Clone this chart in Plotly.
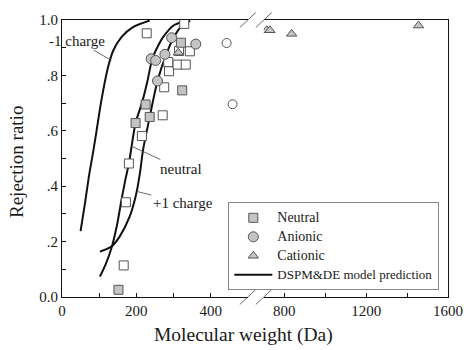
import plotly.graph_objects as go

# ---------------- data ----------------
neutral_mw = [152, 198, 225, 236, 320, 323.5]
neutral_rej = [0.026, 0.628, 0.695, 0.650, 0.918, 0.746]

neutral_open_mw = [166, 172, 180, 215, 228, 271, 275, 286, 288, 311, 315, 333, 344, 329]
neutral_open_rej = [0.114, 0.342, 0.482, 0.581, 0.952, 0.656, 0.757, 0.848, 0.815, 0.839, 0.888, 0.839, 0.887, 0.986]

anionic_mw = [240, 252, 257, 277, 295, 360]
anionic_rej = [0.860, 0.854, 0.780, 0.876, 0.936, 0.913]

anionic_open_mw = [443, 459]
anionic_open_rej = [0.917, 0.696]

cationic_mw = [313, 714, 730, 836, 1456]
cationic_rej = [0.882, 0.963, 0.963, 0.950, 0.980]

model_neg_mw = [50, 62, 73, 84, 93, 106, 124, 138, 160, 191, 236]
model_neg_rej = [0.238, 0.34, 0.44, 0.525, 0.60, 0.71, 0.83, 0.89, 0.938, 0.974, 0.998]

model_neu_mw = [102, 118, 133, 148, 160, 170, 180, 198, 215, 230, 243, 258, 272, 300, 335]
model_neu_rej = [0.074, 0.12, 0.176, 0.26, 0.35, 0.42, 0.482, 0.628, 0.70, 0.78, 0.86, 0.905, 0.938, 0.98, 0.998]

model_pos_mw = [102, 118, 133, 155, 182, 200, 210, 218, 236, 257, 281, 301, 319, 345]
model_pos_rej = [0.164, 0.172, 0.182, 0.218, 0.29, 0.374, 0.45, 0.53, 0.65, 0.78, 0.878, 0.938, 0.974, 0.998]

x_ticks1 = [0, 100, 200, 300, 400]
x_text1 = ["0", "", "200", "", "400"]
x_ticks2 = [800, 1000, 1200, 1400, 1600]
x_text2 = ["800", "", "1200", "", "1600"]
y_ticks = [0, 0.1, 0.2, 0.3, 0.4, 0.5, 0.6, 0.7, 0.8, 0.9, 1.0]
y_text = ["0.0", "", ".2", "", ".4", "", ".6", "", ".8", "", "1.0"]

BREAK_LO, BREAK_HI = 500, 700

# ---------------- styles ----------------
FONT = "Liberation Serif, Times New Roman, serif"
TXT = "#1a1a1a"
FILL = "#c4c4c4"
EDGE = "#555555"

W, H = 464, 350
ML, MR, MT, MB = 62, 16, 20, 53
PW = W - ML - MR
PH = H - MT - MB
D1 = (247.8 - ML) / PW
D2 = (263.8 - ML) / PW


def split(xs, ys):
    a = [(x, y) for x, y in zip(xs, ys) if x <= BREAK_LO]
    b = [(x, y) for x, y in zip(xs, ys) if x >= BREAK_HI]
    return ([p[0] for p in a], [p[1] for p in a]), ([p[0] for p in b], [p[1] for p in b])


def big(t, size=14):
    return f"<span style='font-size:{size}px'>{t}</span>"


fig = go.Figure()

line_style = dict(color="#111111", width=2, shape="spline", smoothing=0.8)
fig.add_trace(go.Scatter(x=model_neg_mw, y=model_neg_rej, mode="lines", line=line_style,
                         name=big("DSPM&DE model prediction", 13),
                         legendrank=4, showlegend=True, xaxis="x", yaxis="y"))
fig.add_trace(go.Scatter(x=model_neu_mw, y=model_neu_rej, mode="lines", line=line_style,
                         showlegend=False, xaxis="x", yaxis="y"))
fig.add_trace(go.Scatter(x=model_pos_mw, y=model_pos_rej, mode="lines", line=line_style,
                         showlegend=False, xaxis="x", yaxis="y"))

open_marker = dict(color="white", line=dict(color=EDGE, width=1))
fig.add_trace(go.Scatter(x=neutral_open_mw, y=neutral_open_rej, mode="markers",
                         marker=dict(symbol="square", size=9, **open_marker),
                         showlegend=False, xaxis="x", yaxis="y"))
fig.add_trace(go.Scatter(x=anionic_open_mw, y=anionic_open_rej, mode="markers",
                         marker=dict(symbol="circle", size=9, **open_marker),
                         showlegend=False, xaxis="x", yaxis="y"))

fill_marker = dict(color=FILL, line=dict(color=EDGE, width=1))
fig.add_trace(go.Scatter(x=neutral_mw, y=neutral_rej, mode="markers", name=big("Neutral"),
                         marker=dict(symbol="square", size=9, **fill_marker),
                         legendrank=1, xaxis="x", yaxis="y"))
fig.add_trace(go.Scatter(x=anionic_mw, y=anionic_rej, mode="markers", name=big("Anionic"),
                         marker=dict(symbol="circle", size=10, **fill_marker),
                         legendrank=2, xaxis="x", yaxis="y"))
(c1x, c1y), (c2x, c2y) = split(cationic_mw, cationic_rej)
fig.add_trace(go.Scatter(x=c1x, y=c1y, mode="markers", name=big("Cationic"),
                         marker=dict(symbol="triangle-up", size=9, **fill_marker),
                         legendrank=3, legendgroup="cat", xaxis="x", yaxis="y"))
fig.add_trace(go.Scatter(x=c2x, y=c2y, mode="markers", name="Cationic",
                         marker=dict(symbol="triangle-up", size=9, **fill_marker),
                         legendgroup="cat", showlegend=False, xaxis="x2", yaxis="y2"))

axis_common = dict(showline=True, linecolor="#111111", linewidth=1, ticks="inside",
                   ticklen=4, tickcolor="#111111", showgrid=False, zeroline=False,
                   automargin=False,
                   tickfont=dict(family=FONT, size=15, color=TXT))

fig.update_layout(
    width=W, height=H,
    margin=dict(l=ML, r=MR, t=MT, b=MB, pad=0, autoexpand=False),
    paper_bgcolor="white", plot_bgcolor="white",
    font=dict(family=FONT, color=TXT),
    hovermode=False,
    xaxis=dict(domain=[0, D1], range=[0, BREAK_LO], tickvals=x_ticks1, ticktext=x_text1,
               mirror=True, anchor="y", **axis_common),
    xaxis2=dict(domain=[D2, 1], range=[BREAK_HI, 1600], tickvals=x_ticks2, ticktext=x_text2,
                mirror=True, anchor="y2", **axis_common),
    yaxis=dict(domain=[0, 1], range=[0, 1.0], tickvals=y_ticks, ticktext=y_text,
               anchor="x", **axis_common),
    yaxis2=dict(domain=[0, 1], range=[0, 1.0], matches="y", anchor="x2", side="right",
                showline=True, linecolor="#111111", linewidth=1, ticks="",
                showticklabels=False, showgrid=False, zeroline=False, automargin=False),
    legend=dict(x=(228.3 - ML) / PW, y=(MT + PH - 202.3) / PH, xanchor="left", yanchor="top",
                bgcolor="white", bordercolor="#888888", borderwidth=1,
                font=dict(family=FONT, size=11, color=TXT),
                tracegroupgap=0, itemwidth=38),
    showlegend=True,
)

# axis titles
fig.add_annotation(text="Molecular weight (Da)", xref="paper", yref="paper",
                   x=(243.5 - ML) / PW, y=(MT + PH - 335) / PH, showarrow=False,
                   xanchor="center", yanchor="middle",
                   font=dict(family=FONT, size=19.5, color=TXT))
fig.add_annotation(text="Rejection ratio", xref="paper", yref="paper",
                   x=(16 - ML) / PW, y=(MT + PH - 162) / PH, showarrow=False, textangle=-90,
                   xanchor="center", yanchor="middle",
                   font=dict(family=FONT, size=19, color=TXT))

# curve labels with leader lines
labels = [("-1 charge", 133, 0.854, 41, 0.926),
          ("neutral", 191, 0.542, 320, 0.462),
          ("+1 charge", 205, 0.380, 325, 0.339)]
for t, hx, hy, tx, ty in labels:
    fig.add_annotation(text=t, x=hx, y=hy, ax=tx, ay=ty, xref="x", yref="y",
                       axref="x", ayref="y", showarrow=True, arrowhead=0,
                       arrowwidth=0.8, arrowcolor="#444444",
                       font=dict(family=FONT, size=15, color=TXT))

# axis-break slashes
def px_x(p):
    return (p - ML) / PW


def px_y(p):
    return (MT + PH - p) / PH


for cx in (247.8, 263.8):
    for cy in (MT, MT + PH):
        fig.add_shape(type="line", xref="paper", yref="paper",
                      x0=px_x(cx - 8), y0=px_y(cy + 7.5), x1=px_x(cx + 8), y1=px_y(cy - 7.5),
                      line=dict(color="#444444", width=0.8))

fig.write_html("out.html", config={"displayModeBar": False, "staticPlot": True},
               post_script="document.body.style.margin='0';document.body.style.padding='0';")
